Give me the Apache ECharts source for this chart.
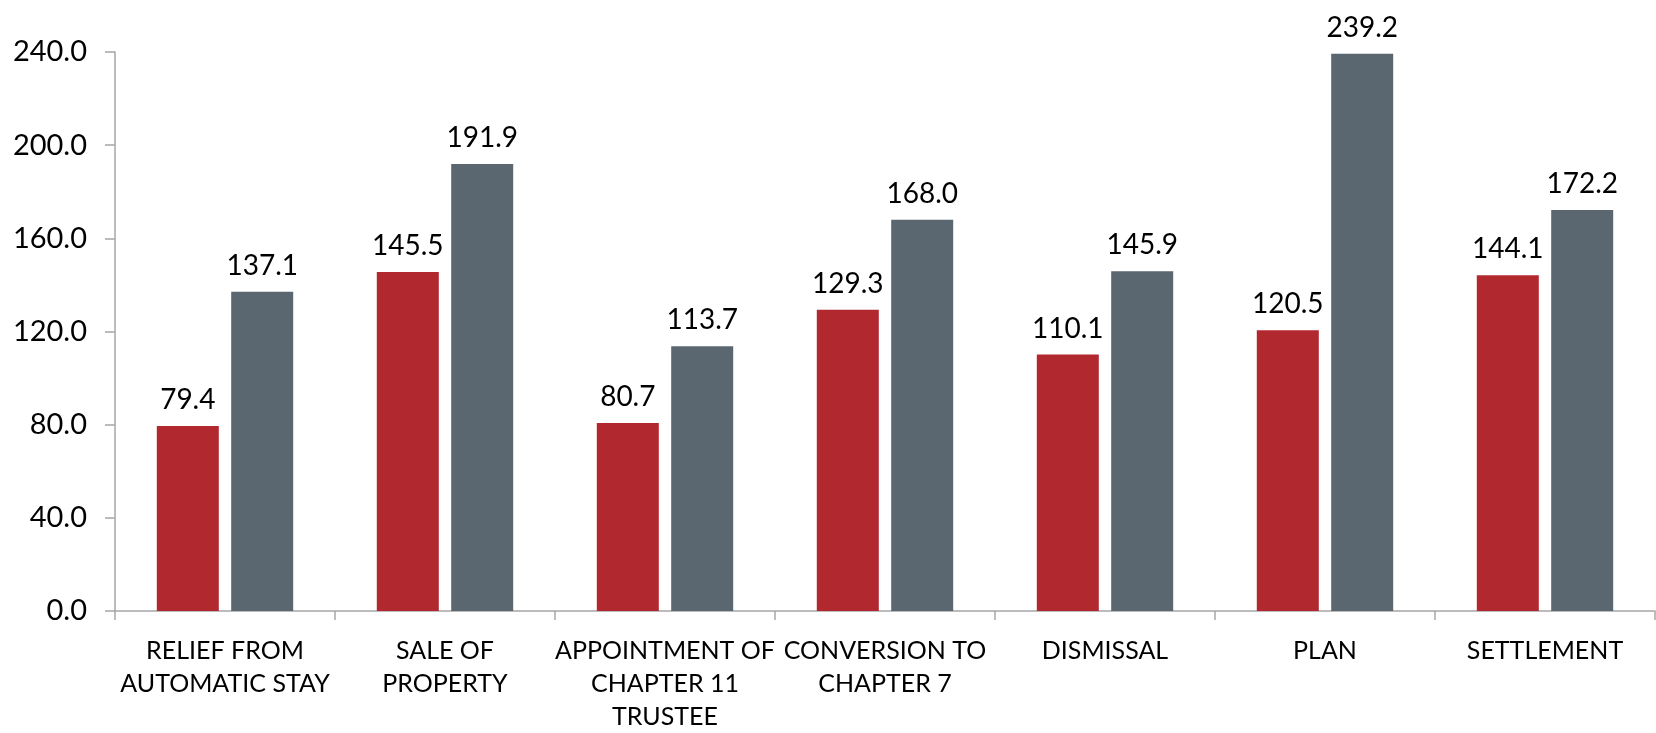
<!DOCTYPE html>
<html>
<head>
<meta charset="utf-8">
<script src="https://cdn.jsdelivr.net/npm/echarts@6/dist/echarts.min.js"></script>
<style>
  html, body { margin: 0; padding: 0; background: #ffffff; }
  #chart { width: 1656px; height: 733px; }
</style>
</head>
<body>
<div id="chart"></div>
<script>
// Motion categories (line breaks as they wrap under the axis)
const categories = [
  'RELIEF FROM\nAUTOMATIC STAY',
  'SALE OF\nPROPERTY',
  'APPOINTMENT OF\nCHAPTER 11\nTRUSTEE',
  'CONVERSION TO\nCHAPTER 7',
  'DISMISSAL',
  'PLAN',
  'SETTLEMENT'
];

// Two series per category
const seriesRed  = [79.4, 145.5, 80.7, 129.3, 110.1, 120.5, 144.1];
const seriesGray = [137.1, 191.9, 113.7, 168.0, 145.9, 239.2, 172.2];

// Value axis ticks
const yTicks = [0, 40, 80, 120, 160, 200, 240];

const FONT = 'Lato';
const AXIS_COLOR = '#A6A6A6';

const chart = echarts.init(document.getElementById('chart'), null, { renderer: 'canvas' });

const barLabel = {
  show: true,
  position: 'top',
  distance: 12,
  color: '#000000',
  fontFamily: FONT,
  fontSize: 28,
  formatter: p => p.value.toFixed(1)
};

chart.setOption({
  animation: false,
  backgroundColor: '#ffffff',
  grid: { left: 115, right: 1, top: 52, bottom: 119, containLabel: false },
  xAxis: {
    type: 'category',
    data: categories,
    boundaryGap: true,
    axisLine: { show: true, lineStyle: { color: AXIS_COLOR, width: 1.5 } },
    axisTick: { show: true, length: 9, inside: false, lineStyle: { color: AXIS_COLOR, width: 1.5 } },
    axisLabel: {
      interval: 0,
      margin: 23,
      color: '#000000',
      fontFamily: FONT,
      fontSize: 25,
      lineHeight: 33
    },
    splitLine: { show: false }
  },
  yAxis: {
    type: 'value',
    min: yTicks[0],
    max: yTicks[yTicks.length - 1],
    interval: yTicks[1] - yTicks[0],
    axisLine: { show: true, lineStyle: { color: AXIS_COLOR, width: 1.5 } },
    axisTick: { show: true, length: 10, lineStyle: { color: AXIS_COLOR, width: 1.5 } },
    axisLabel: {
      margin: 28,
      color: '#000000',
      fontFamily: FONT,
      fontSize: 29,
      formatter: v => v.toFixed(1)
    },
    splitLine: { show: false }
  },
  series: [
    {
      name: 'Series 1',
      type: 'bar',
      data: seriesRed,
      barGap: '20%',
      barCategoryGap: '38%',
      itemStyle: { color: '#B1282F' },
      label: barLabel
    },
    {
      name: 'Series 2',
      type: 'bar',
      data: seriesGray,
      barGap: '20%',
      barCategoryGap: '38%',
      itemStyle: { color: '#5A6670' },
      label: barLabel
    }
  ]
});
</script>
</body>
</html>
